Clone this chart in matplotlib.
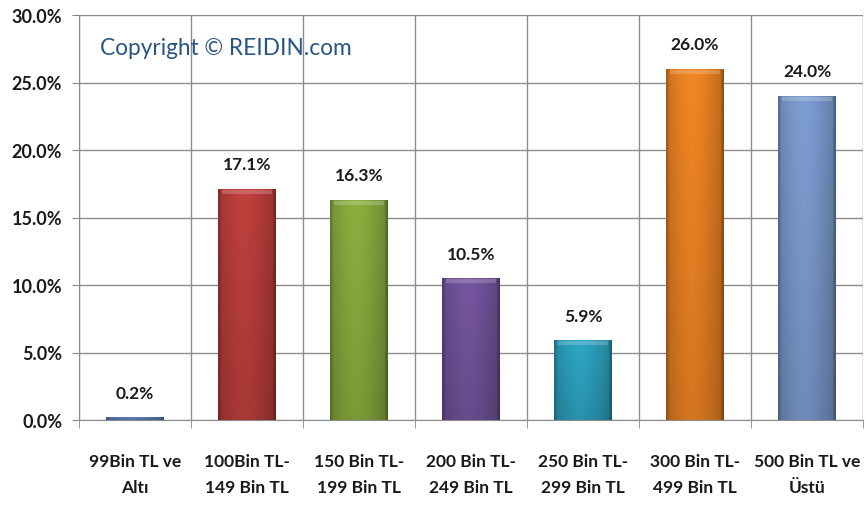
import matplotlib
matplotlib.use("Agg")
import matplotlib.pyplot as plt
import numpy as np
from matplotlib.colors import to_rgb

categories = ["99Bin TL ve\nAltı", "100Bin TL-\n149 Bin TL", "150 Bin TL-\n199 Bin TL",
              "200 Bin TL-\n249 Bin TL", "250 Bin TL-\n299 Bin TL", "300 Bin TL-\n499 Bin TL",
              "500 Bin TL ve\nÜstü"]
values = [0.2, 17.1, 16.3, 10.5, 5.9, 26.0, 24.0]
value_labels = ["0.2%", "17.1%", "16.3%", "10.5%", "5.9%", "26.0%", "24.0%"]
colors = ["#5B7FBF", "#C0403D", "#8BB040", "#7656A0", "#2EA6C4", "#F28624", "#7E9ED3"]
yticks = [0, 5, 10, 15, 20, 25, 30]
ytick_labels = ["0.0%", "5.0%", "10.0%", "15.0%", "20.0%", "25.0%", "30.0%"]

plt.rcParams['font.family'] = ['Lato', 'DejaVu Sans']

fig = plt.figure(figsize=(8.66, 5.06), dpi=100)
ax = fig.add_axes([79/866, 1-421/506, (863-79)/866, (421-16)/506])

x = np.arange(len(categories))
width = 0.51
bars = ax.bar(x, values, width=width, color=colors, zorder=3, linewidth=0)

# gradient shading overlay for bevel look
for b, c in zip(bars, colors):
    rgb = np.array(to_rgb(c))
    n = 64
    h = np.linspace(0, 1, n)
    prof = 1.0 - 0.25 * np.abs(h - 0.45) ** 1.5 * 2.2
    prof[:3] *= 0.85
    prof[-3:] *= 0.8
    v = np.linspace(0, 1, 32)
    vprof = 0.88 + 0.12 * v
    img = np.clip(rgb[None, None, :] * prof[None, :, None] * vprof[:, None, None], 0, 1)
    x0, y0 = b.get_x(), b.get_y()
    w, hgt = b.get_width(), b.get_height()
    im = ax.imshow(img, extent=[x0, x0 + w, y0, y0 + hgt], origin='lower',
                   aspect='auto', zorder=3.5, interpolation='bilinear')
    im.set_clip_path(b)
    if hgt > 1:
        ax.fill_between([x0 + 0.03, x0 + w - 0.03], y0 + hgt - 0.35, y0 + hgt - 0.05,
                        color='white', alpha=0.2, zorder=3.6, linewidth=0)

for xi, v, lab in zip(x, values, value_labels):
    ax.annotate(lab, (xi, v), xytext=(0, 12), textcoords='offset points',
                ha='center', va='bottom', fontsize=12.5, fontweight='bold', color='#1a1a1a')

ax.set_xlim(-0.5, len(categories) - 0.5)
ax.set_ylim(0, 30)
ax.set_yticks(yticks)
ax.set_yticklabels(ytick_labels, fontsize=13, fontweight='bold', color='#1a1a1a')
ax.set_xticks(x)
ax.set_xticklabels(categories, fontsize=12.5, fontweight='bold', linespacing=1.75, color='#1a1a1a')
ax.tick_params(axis='x', length=0, pad=24)
ax.tick_params(axis='y', length=5, color='#888888', pad=7)
ax.set_xticks(np.arange(-0.5, len(categories)), minor=True)
ax.tick_params(axis='x', which='minor', length=6, color='#888888')
ax.grid(axis='y', which='major', color='#8c8c8c', linewidth=1, zorder=0)
ax.grid(axis='x', which='minor', color='#8c8c8c', linewidth=1, zorder=0)
ax.set_axisbelow(True)
for s in ['top', 'right']:
    ax.spines[s].set_visible(False)
ax.spines['left'].set_color('#8c8c8c')
ax.spines['bottom'].set_color('#8c8c8c')

ax.text(0.027, 0.92, "Copyright © REIDIN.com", transform=ax.transAxes,
        fontsize=16.3, color='#2B5584', ha='left', va='center', zorder=5)

fig.savefig("out.png", dpi=100)
